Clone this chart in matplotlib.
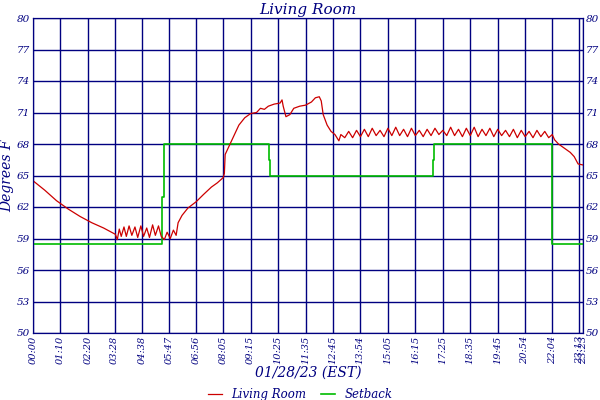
import matplotlib
matplotlib.use("Agg")
import matplotlib.pyplot as plt

NAVY = "#000080"

# Living Room temperature, (time, degF)
room_times = ["00:00", "00:30", "01:00", "01:30", "02:00", "02:30", "03:00", "03:20", "03:30",
              "03:35", "03:40", "03:45", "03:52", "03:58", "04:05", "04:12", "04:20", "04:27",
              "04:35", "04:42", "04:50", "04:57", "05:05", "05:12", "05:20", "05:27", "05:35",
              "05:42", "05:50", "05:58", "06:05", "06:10", "06:20", "06:35", "06:56", "07:15",
              "07:35", "07:50", "08:05", "08:08", "08:10", "08:20", "08:30", "08:45", "09:00",
              "09:15", "09:30", "09:40", "09:50", "10:00", "10:15", "10:30", "10:35", "10:38",
              "10:45", "10:55", "11:05", "11:20", "11:35", "11:50", "12:00", "12:10", "12:15",
              "12:20", "12:30", "12:40", "12:50", "13:00", "13:05",
              "13:15", "13:25", "13:35", "13:45", "13:55", "14:05", "14:15", "14:25", "14:35",
              "14:45", "14:55", "15:05", "15:15", "15:25", "15:35", "15:45", "15:55", "16:05",
              "16:15", "16:25", "16:35", "16:45", "16:55", "17:05", "17:15", "17:25", "17:35",
              "17:45", "17:55", "18:05", "18:15", "18:25", "18:35", "18:45", "18:55", "19:05",
              "19:15", "19:25", "19:35", "19:45", "19:55", "20:05", "20:15", "20:25", "20:35",
              "20:45", "20:55", "21:05", "21:15", "21:25", "21:35", "21:45", "21:55", "22:04",
              "22:10", "22:20", "22:35", "22:50", "23:00", "23:10", "23:23"]
room_temps = [64.5, 63.6, 62.6, 61.8, 61.1, 60.5, 60.0, 59.6, 59.4,
              58.9, 59.9, 59.2, 60.1, 59.2, 60.2, 59.3, 60.1, 59.1,
              60.2, 59.2, 60.0, 59.1, 60.3, 59.3, 60.2, 59.2, 58.9,
              59.6, 59.0, 59.8, 59.3, 60.5, 61.2, 61.9, 62.5, 63.2,
              63.9, 64.3, 64.8, 65.2, 67.0, 67.8, 68.6, 69.8, 70.5,
              70.9, 71.0, 71.4, 71.3, 71.6, 71.8, 71.9, 72.2, 71.6,
              70.6, 70.8, 71.4, 71.6, 71.7, 72.0, 72.4, 72.5, 72.1,
              70.8, 69.8, 69.2, 68.9, 68.3, 68.9,
              68.6, 69.2, 68.6, 69.3, 68.7, 69.4, 68.7, 69.5, 68.8,
              69.3, 68.7, 69.5, 68.8, 69.6, 68.8, 69.4, 68.7, 69.5,
              68.8, 69.3, 68.7, 69.4, 68.8, 69.5, 68.9, 69.3, 68.8,
              69.6, 68.8, 69.4, 68.7, 69.5, 68.8, 69.6, 68.7, 69.4,
              68.8, 69.5, 68.7, 69.4, 68.8, 69.3, 68.7, 69.4, 68.6,
              69.3, 68.7, 69.2, 68.6, 69.3, 68.7, 69.2, 68.6, 68.9,
              68.4, 68.0, 67.6, 67.2, 66.8, 66.1, 66.0]

# Setback setpoint, step changes
setback_times = ["00:00", "05:30", "05:30", "05:33", "05:33", "10:02", "10:02", "10:04", "10:04",
                 "17:00", "17:00", "17:03", "17:03", "22:04", "22:04", "23:23"]
setback_temps = [58.5, 58.5, 63.0, 63.0, 68.0, 68.0, 66.5, 66.5, 65.0,
                 65.0, 66.5, 66.5, 68.0, 68.0, 58.5, 58.5]

tick_labels = ["00:00", "01:10", "02:20", "03:28", "04:38", "05:47", "06:56", "08:05", "09:15",
               "10:25", "11:35", "12:45", "13:54", "15:05", "16:15", "17:25", "18:35", "19:45",
               "20:54", "22:04", "23:13", "23:23"]
y_ticks = [50, 53, 56, 59, 62, 65, 68, 71, 74, 77, 80]


def to_min(s):
    h, m = s.split(":")
    return int(h) * 60 + int(m)


font = dict(family="DejaVu Serif", style="italic", color=NAVY)

fig = plt.figure(figsize=(6, 4), dpi=100)
ax = fig.add_axes([0.055, 0.1675, 0.917, 0.7875])

ax.plot([to_min(t) for t in setback_times], setback_temps, color="#00bb00", lw=1.2, label="Setback", zorder=3)
ax.plot([to_min(t) for t in room_times], room_temps, color="#cc0000", lw=0.9, label="Living Room", zorder=4)

ax.set_xlim(0, to_min("23:23"))
ax.set_ylim(50, 80)
ax.set_yticks(y_ticks)
ax.set_xticks([to_min(t) for t in tick_labels])
ax.set_xticklabels(tick_labels, rotation=90, fontsize=7, fontdict=font)
ax.set_yticklabels([str(v) for v in y_ticks], fontsize=7.5, fontdict=font)
ax.grid(True, color=NAVY, lw=1.0)
ax.tick_params(length=0, pad=2)
for sp in ax.spines.values():
    sp.set_color(NAVY)

ax2 = ax.twinx()
ax2.set_ylim(50, 80)
ax2.set_yticks(y_ticks)
ax2.set_yticklabels([str(v) for v in y_ticks], fontsize=7.5, fontdict=font)
ax2.tick_params(length=0, pad=2)
for sp in ax2.spines.values():
    sp.set_color(NAVY)

ax.set_title("Living Room", fontsize=11, pad=3, **font)
ax.set_xlabel("01/28/23 (EST)", fontsize=10, labelpad=1, **font)
ax.set_ylabel("Degrees F", fontsize=10, labelpad=2, **font)

h, l = ax.get_legend_handles_labels()
leg = fig.legend(h[::-1], l[::-1], loc="lower center", ncol=2, frameon=False,
                 bbox_to_anchor=(0.5, -0.03), handlelength=1.2, columnspacing=1.2,
                 prop=dict(family="DejaVu Serif", style="italic", size=8.5))
for t in leg.get_texts():
    t.set_color(NAVY)

fig.savefig("out.png", dpi=100)
